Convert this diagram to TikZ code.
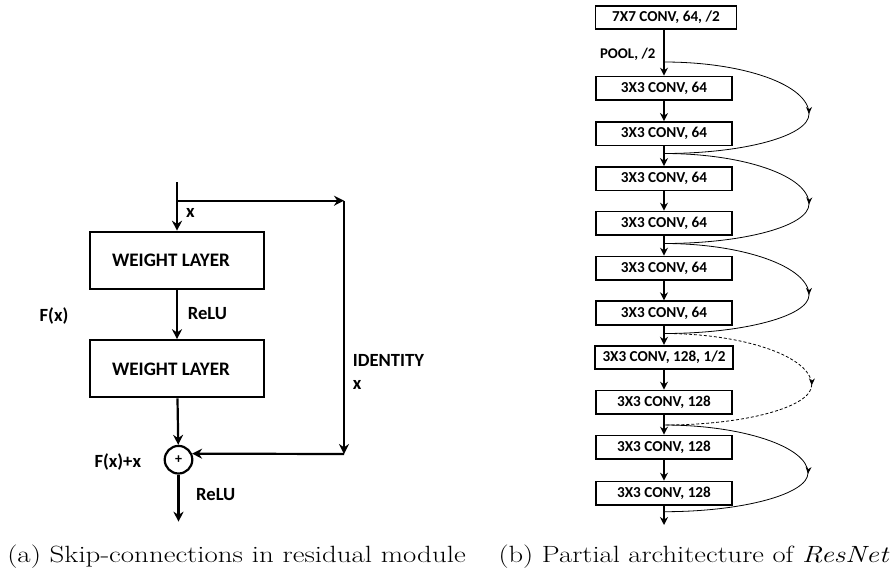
\documentclass[tikz,border=0pt]{standalone}
\usepackage{fontspec}
\newfontfamily\labelfont{Carlito}
\usetikzlibrary{arrows.meta, decorations.markings}

\begin{document}
\begin{tikzpicture}[x=1pt, y=-1pt, >={Stealth[length=10pt, width=10pt]},
    layer/.style={draw, line width=2.2pt, minimum width=174pt, minimum height=57pt, inner sep=0pt, font=\fontsize{19.1}{21}\labelfont\bfseries},
    lbl/.style={inner sep=0pt, font=\fontsize{18.6}{20}\labelfont\bfseries},
    conv/.style={draw, line width=1.8pt, minimum width=136pt, minimum height=23.5pt, inner sep=0pt, font=\fontsize{15.2}{17}\labelfont\bfseries},
    flow/.style={line width=2pt, -{Stealth[length=8pt, width=8pt]}},
    skip/.style={line width=0.8pt, postaction={decorate}, decoration={markings, mark=at position 0.51 with {\arrow{Stealth[length=7pt, width=6pt]}}}},
    caption/.style={anchor=base, inner sep=0pt, font=\fontsize{23.5}{26}\selectfont}]
    \useasboundingbox (0,0) rectangle (896,574);

    % (a) residual module
    \node[layer] (w1) at (177,260.3) {\hspace*{-12pt}WEIGHT LAYER};
    \node[layer] (w2) at (177,368.8) {\hspace*{-12pt}WEIGHT LAYER};
    \node[draw, circle, line width=2.2pt, minimum size=27.6pt, inner sep=0pt, font=\fontsize{14}{16}\labelfont\bfseries] (sum) at (178.5,459.7) {+};
    \coordinate (in) at (177,182);
    \coordinate (split) at (177,200.7);
    \coordinate (tr) at (344,200.7);
    \coordinate (br) at (344,454);
    \coordinate (out) at (178.5,521.7);

    \begin{scope}[line width=2.2pt]
        \draw[->] (in) -- (w1);
        \draw[->] (split) -- (tr);
        \draw[->] (tr) -- (br);
        \draw[->] (br) -- (sum.24);
        \draw[->] (w1) -- (w2);
        \draw[->] (w2) -- (sum);
        \draw[->] (sum) -- (out);
    \end{scope}

    \node[lbl, anchor=west] (xin) at (186,213) {x};
    \node[lbl, anchor=west] (relu1) at (187.7,313.3) {ReLU};
    \node[lbl] (fx) at (54,315.7) {F(x)};
    \node[lbl, anchor=west] (ident) at (352.7,360.7) {IDENTITY};
    \node[lbl, anchor=west] (xid) at (352.7,385) {x};
    \node[lbl] (fxx) at (117.8,461.7) {F(x)+x};
    \node[lbl, anchor=west] (relu2) at (196,495) {ReLU};

    % (b) resnet stack
    \node[conv, minimum width=141pt] (b1) at (666,17.5) {7X7 CONV, 64, /2};
    \node[conv] (b2) at (664,88.3) {3X3 CONV, 64};
    \node[conv] (b3) at (664,133.7) {3X3 CONV, 64};
    \node[conv] (b4) at (664,178.7) {3X3 CONV, 64};
    \node[conv] (b5) at (664,223.3) {3X3 CONV, 64};
    \node[conv] (b6) at (664,268.3) {3X3 CONV, 64};
    \node[conv] (b7) at (664,313) {3X3 CONV, 64};
    \node[conv, minimum width=138pt] (b8) at (664,357.5) {3X3 CONV, 128, 1/2};
    \node[conv] (b9) at (664,402.3) {3X3 CONV, 128};
    \node[conv] (b10) at (664,447.3) {3X3 CONV, 128};
    \node[conv] (b11) at (664,493.3) {3X3 CONV, 128};
    \coordinate (bend) at (664,525);

    \node[inner sep=0pt, font=\fontsize{14.8}{16}\labelfont\bfseries] (pool) at (627.8,54.3) {POOL, /2};

    \draw[flow] (b1.south -| b2) -- (b2);
    \foreach \a/\b in {b2/b3, b3/b4, b4/b5, b5/b6, b6/b7, b7/b8, b8/b9, b9/b10, b10/b11, b11/bend}
        \draw[flow] (\a) -- (\b);

    % shortcuts
    \coordinate (j0) at (664,62);
    \coordinate (j1) at (664,153.5);
    \coordinate (j2) at (664,243.5);
    \coordinate (j3) at (664,333.5);
    \coordinate (j4) at (664,425);
    \coordinate (j5) at (664,511.7);
    \draw[skip] (j0) .. controls +(80,0) and +(0,-29) .. (809,114) .. controls +(0,22) and +(80,0) .. (j1);
    \draw[skip] (j1) .. controls +(80,0) and +(0,-28) .. (809,204) .. controls +(0,22) and +(80,0) .. (j2);
    \draw[skip] (j2) .. controls +(80,0) and +(0,-28) .. (809,295) .. controls +(0,21) and +(80,0) .. (j3);
    \draw[skip, dash pattern=on 3pt off 2pt] (j3) .. controls +(81,0) and +(0,-28) .. (811.7,385) .. controls +(0,22) and +(81,0) .. (j4);
    \draw[skip] (j4) .. controls +(79,0) and +(0,-26) .. (808,473) .. controls +(0,21) and +(79,0) .. (j5);

    % captions
    \node[caption] (capa) at (236.5,562) {\scalebox{1.23}[1]{(a) Skip-connections in residual module}};
    \node[caption] (capb) at (694,562) {\scalebox{1.215}[1]{(b) Partial architecture of \textit{ResNet}}};
\end{tikzpicture}
\end{document}
